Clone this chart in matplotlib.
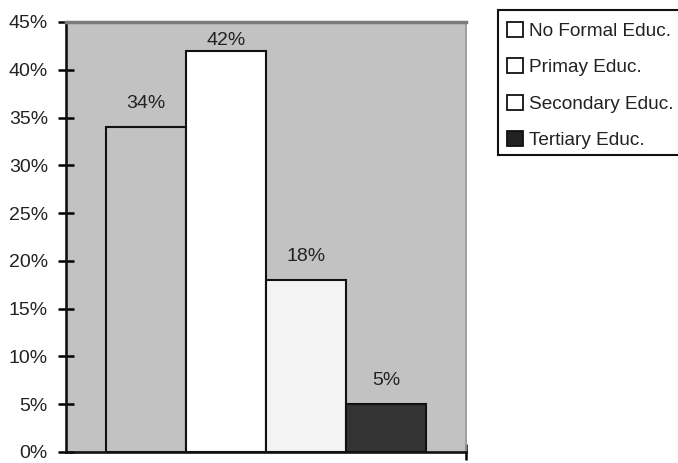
import matplotlib
matplotlib.use("Agg")
import matplotlib.pyplot as plt
from matplotlib.patches import Patch, Rectangle

plt.rcParams['font.family'] = ['Liberation Sans', 'DejaVu Sans']

# Education level shares
categories = ["No Formal Educ.", "Primay Educ.", "Secondary Educ.", "Tertiary Educ."]
shares = [34, 42, 18, 5]
bar_colors = ["#c2c2c2", "#ffffff", "#f3f3f3", "#333333"]
legend_colors = ["#ffffff", "#ffffff", "#ffffff", "#222222"]
yticks = list(range(0, 50, 5))

W, H = 678, 463
fig = plt.figure(figsize=(W / 100, H / 100), dpi=100)
ax_left, ax_bottom, ax_w, ax_h = 66, 11, 400, 430
ax = fig.add_axes([ax_left / W, ax_bottom / H, ax_w / W, ax_h / H])
ax.set_facecolor("#c2c2c2")

ymax = 45
px = ymax / ax_h  # data units per pixel on the y axis

x = list(range(len(shares)))
ax.bar(x, shares, width=1.0, color=bar_colors, edgecolor="#111111", linewidth=1.5, zorder=2)

# value labels sit above each bar; a label that would reach the frame is pinned just below it
label_fs = 14
label_gap = 15 * px
label_h = 22 * px
top_edge = ymax - 10 * px
for xi, v in zip(x, shares):
    if v + label_gap + label_h > top_edge:
        ax.text(xi, top_edge, f"{v}%", ha="center", va="top", fontsize=label_fs,
                color="#222222", zorder=3)
    else:
        ax.text(xi, v + label_gap, f"{v}%", ha="center", va="bottom", fontsize=label_fs,
                color="#222222", zorder=3)

ax.set_xlim(-1, 4)
ax.set_ylim(0, ymax)
ax.set_yticks(yticks)
ax.set_yticklabels([f"{t}%" for t in yticks], fontsize=14, color="#222222")
ax.tick_params(axis="y", direction="inout", length=12, width=1.8, pad=7)
ax.set_xticks([4])
ax.set_xticklabels([""])
ax.tick_params(axis="x", direction="inout", length=12, width=1.8)

for side in ("left", "bottom"):
    ax.spines[side].set_linewidth(1.9)
    ax.spines[side].set_color("#111111")
ax.spines["top"].set_color("#7a7a7a")
ax.spines["top"].set_linewidth(2.5)
ax.spines["right"].set_color("#9a9a9a")
ax.spines["right"].set_linewidth(1.3)

# legend box runs off the right edge of the figure
fig.patches.append(Rectangle((498 / W, 1 - 155 / H), 200 / W, 145 / H,
                             transform=fig.transFigure, facecolor="white",
                             edgecolor="#111111", linewidth=1.5))
handles = [Patch(facecolor=c, edgecolor="#111111", linewidth=1.3) for c in legend_colors]
leg = fig.legend(handles, categories, loc="upper left",
                 bbox_to_anchor=(507 / W, 1 - 22 / H), fontsize=13.7,
                 frameon=False, handlelength=0.85, handleheight=0.85, handletextpad=0.3,
                 labelspacing=0.95, borderpad=0.0, borderaxespad=0)
for t in leg.get_texts():
    t.set_color("#222222")

fig.savefig("out.png", dpi=100, facecolor="white")
